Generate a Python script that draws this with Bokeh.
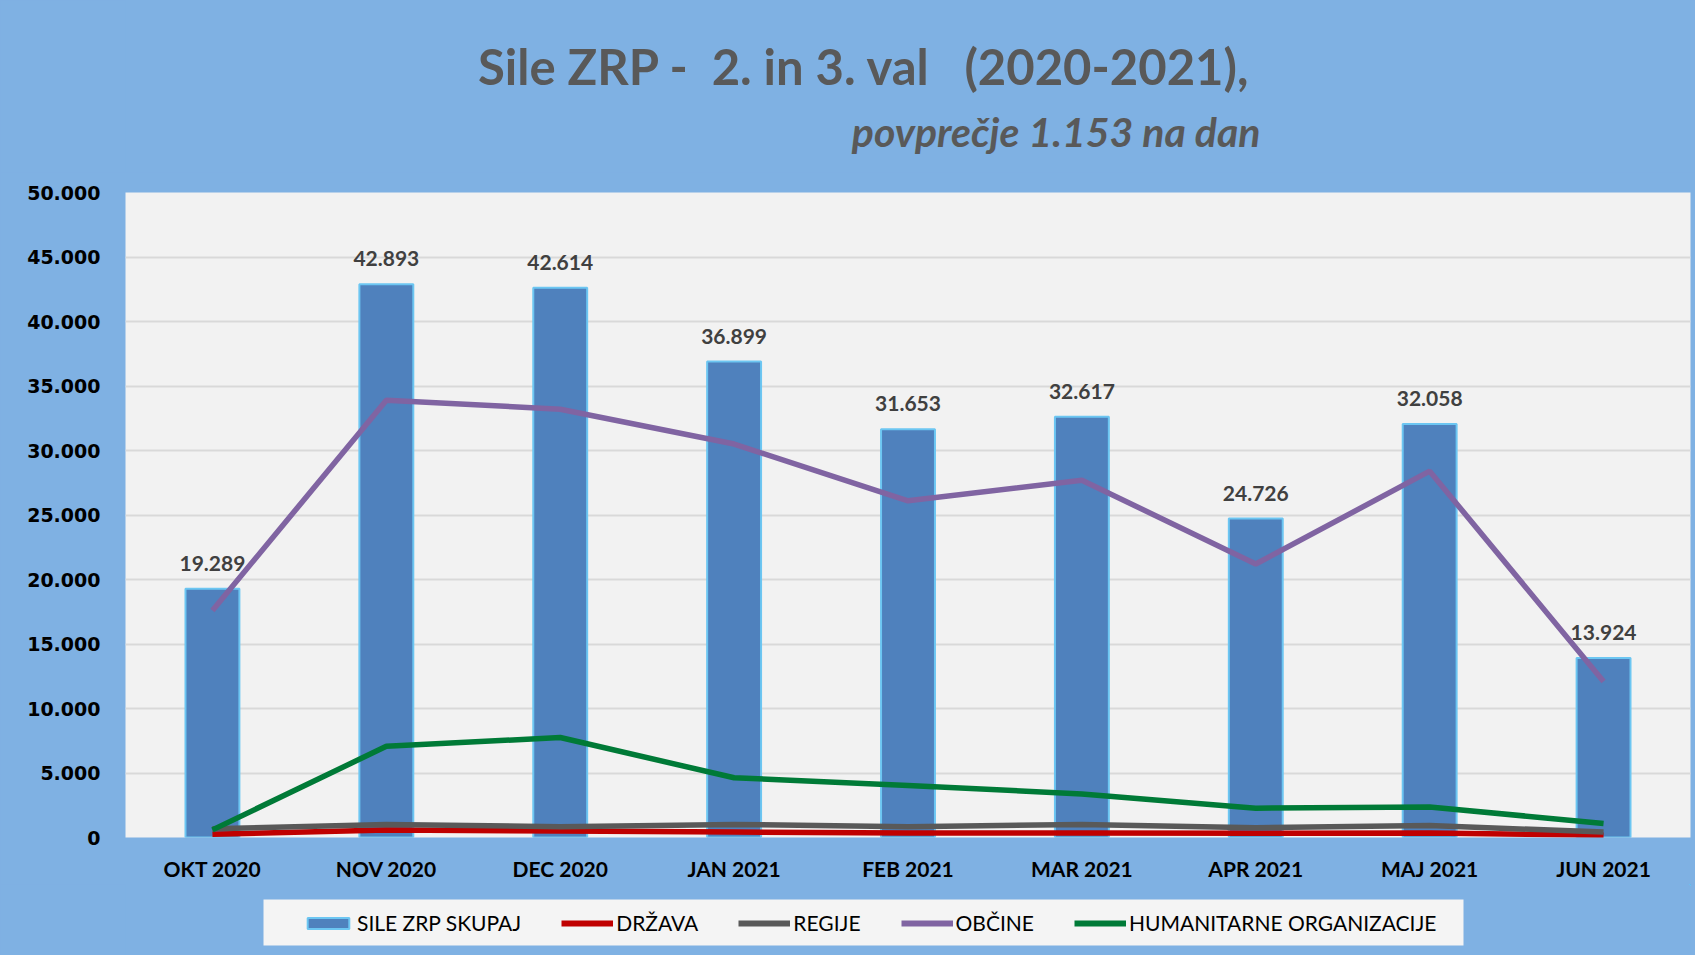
from bokeh.plotting import figure
from bokeh.layouts import column
from bokeh.models import (ColumnDataSource, FactorRange, Range1d, FixedTicker,
                          LabelSet, Label, Legend, LegendItem, BoxAnnotation)
from bokeh.embed import file_html
from bokeh.resources import INLINE
from bokeh.core.properties import value

months = ["OKT 2020", "NOV 2020", "DEC 2020", "JAN 2021", "FEB 2021",
          "MAR 2021", "APR 2021", "MAJ 2021", "JUN 2021"]
skupaj = [19289, 42893, 42614, 36899, 31653, 32617, 24726, 32058, 13924]
drzava = [250, 590, 500, 420, 340, 340, 330, 340, 170]
regije = [670, 1010, 840, 1010, 840, 1010, 760, 930, 420]
obcine = [17600, 33900, 33200, 30500, 26100, 27700, 21200, 28400, 12100]
humanitarne = [590, 7070, 7750, 4630, 4040, 3370, 2270, 2360, 1090]
y_ticks = [0, 5000, 10000, 15000, 20000, 25000, 30000, 35000, 40000, 45000, 50000]

title_text = "Sile ZRP -\u00a0 2. in 3. val\u00a0\u00a0 (2020-2021),"
subtitle_text = "povprečje 1.153 na dan"
legend_names = ["SILE ZRP SKUPAJ", "DRŽAVA", "REGIJE", "OBČINE", "HUMANITARNE ORGANIZACIJE"]

W = 1695
FRAME_L, FRAME_R = 125, 1690
SKY = "#7FB1E3"
FONT = "Lato"
C_BAR, C_BAR_LINE = "#4F81BD", "#6CC6F2"
C_DR, C_RE, C_OB, C_HU = "#C00000", "#595959", "#8064A2", "#007A37"


def fmt(v):
    return f"{v:,}".replace(",", ".")


def blank_fig(h):
    # frames of plots in a column are aligned with the main chart's frame,
    # so the x range is expressed in page pixels
    f = figure(width=W, height=h, x_range=Range1d(FRAME_L, FRAME_R), y_range=Range1d(0, h),
               x_axis_type=None, y_axis_type=None, output_backend="svg",
               toolbar_location=None, min_border=0, title=None)
    f.background_fill_color = None
    f.border_fill_color = SKY
    f.outline_line_color = None
    f.xgrid.visible = False
    f.ygrid.visible = False
    return f


src = ColumnDataSource(dict(
    x=months, skupaj=skupaj, drzava=drzava, regije=regije, obcine=obcine,
    hum=humanitarne, lab=[fmt(v) for v in skupaj]))

# ---------- title strip ----------
TH = 172
pt = blank_fig(TH)
pt.add_layout(Label(x=864, y=TH - 65, text=title_text, text_align="center",
                    text_baseline="middle", text_font=FONT, text_font_size="49px",
                    text_font_style="bold", text_color="#595959"))
pt.add_layout(Label(x=1260, y=TH - 131, text=subtitle_text, text_align="right",
                    text_baseline="middle", text_font=FONT, text_font_size="41px",
                    text_font_style="bold italic", text_color="#595959"))

# ---------- main chart ----------
p = figure(x_range=FactorRange(*months), y_range=Range1d(0, 50000),
           width=W, height=712, output_backend="svg", toolbar_location=None,
           min_border_left=FRAME_L, min_border_right=W - FRAME_R, min_border_top=20,
           min_border_bottom=47, title=None)
p.background_fill_color = "#F2F2F2"
p.border_fill_color = SKY
p.outline_line_color = None

p.vbar(x="x", top="skupaj", width=0.31, source=src,
       fill_color=C_BAR, line_color=C_BAR_LINE, line_width=2)
p.line(x="x", y="drzava", source=src, line_color=C_DR, line_width=5.5)
p.line(x="x", y="regije", source=src, line_color=C_RE, line_width=5.5)
p.line(x="x", y="obcine", source=src, line_color=C_OB, line_width=5.5)
p.line(x="x", y="hum", source=src, line_color=C_HU, line_width=5.5)

labels = LabelSet(x="x", y="skupaj", text="lab", source=src, y_offset=18,
                  text_align="center", text_baseline="bottom",
                  text_font=value(FONT), text_font_size="21px",
                  text_font_style="bold", text_color="#404040")
p.add_layout(labels)

p.yaxis.ticker = FixedTicker(ticks=y_ticks)
p.yaxis.major_label_overrides = {t: fmt(t) for t in y_ticks}
p.yaxis.major_label_text_font = "DejaVu Sans"
p.yaxis.major_label_text_font_size = "19px"
p.yaxis.major_label_text_font_style = "bold"
p.yaxis.major_label_text_color = "#000000"
p.yaxis.major_label_standoff = 25
p.yaxis.major_tick_out = 0
p.yaxis.major_tick_in = 0
p.yaxis.axis_line_color = None
p.yaxis.major_tick_line_color = None
p.yaxis.minor_tick_line_color = None

p.xaxis.major_label_text_font = FONT
p.xaxis.major_label_text_font_size = "21px"
p.xaxis.major_label_text_font_style = "bold"
p.xaxis.major_label_text_color = "#000000"
p.xaxis.major_label_standoff = 18
p.xaxis.major_tick_out = 0
p.xaxis.major_tick_in = 0
p.xaxis.axis_line_color = None
p.xaxis.major_tick_line_color = None
p.xaxis.minor_tick_line_color = None

p.xgrid.grid_line_color = None
p.ygrid.grid_line_color = "#D9D9D9"
p.ygrid.grid_line_width = 2

# ---------- legend strip ----------
LH = 71
pl = blank_fig(LH)
pl.add_layout(BoxAnnotation(left=263, right=1463, bottom=LH - 61, top=LH - 15,
                            fill_color="#F4F4F4", fill_alpha=1.0, line_color=None))
# legend swatch renderers (their data lies far outside this strip's ranges,
# so only the legend swatches are seen)
r_bar = pl.vbar(x="skupaj", top="skupaj", bottom="skupaj", width=1, source=src,
                fill_color=C_BAR, line_color=C_BAR_LINE, line_width=2)
r_dr = pl.line(x="skupaj", y="drzava", source=src, line_color=C_DR, line_width=6)
r_re = pl.line(x="skupaj", y="regije", source=src, line_color=C_RE, line_width=6)
r_ob = pl.line(x="skupaj", y="obcine", source=src, line_color=C_OB, line_width=6)
r_hu = pl.line(x="skupaj", y="hum", source=src, line_color=C_HU, line_width=6)
legend = Legend(items=[
    LegendItem(label=legend_names[0], renderers=[r_bar]),
    LegendItem(label=legend_names[1], renderers=[r_dr]),
    LegendItem(label=legend_names[2], renderers=[r_re]),
    LegendItem(label=legend_names[3], renderers=[r_ob]),
    LegendItem(label=legend_names[4], renderers=[r_hu]),
], orientation="horizontal", location=(302 - FRAME_L, LH - 51), margin=0,
    background_fill_alpha=0.0, border_line_color=None, padding=10,
    spacing=40, label_standoff=3, glyph_width=52, glyph_height=14,
    label_text_font=FONT, label_text_font_size="21px", label_text_color="#000000")
pl.add_layout(legend)

layout = column(pt, p, pl, spacing=0, styles={"background-color": SKY})
open("out.html", "w").write(file_html(layout, INLINE))
